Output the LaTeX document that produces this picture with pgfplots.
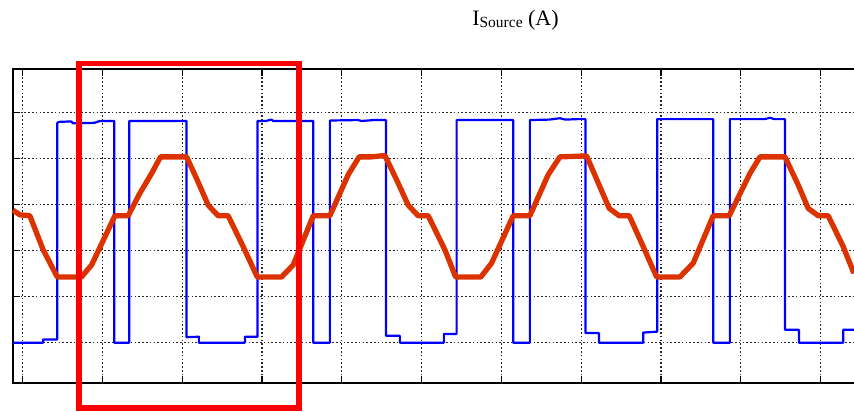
\documentclass[border=0pt]{standalone}
\usepackage{pgfplots}
\pgfplotsset{compat=1.18}
\usepackage{fontspec}
\setmainfont{Liberation Serif}
\definecolor{sigblue}{RGB}{0,0,255}
\definecolor{sigred}{RGB}{220,50,0}
\begin{document}
\begin{tikzpicture}
\useasboundingbox (-13bp,-29bp) rectangle (841bp,383bp);
\begin{axis}[
  scale only axis,
  width=847.5bp, height=314bp,
  xmin=-0.12, xmax=10.5,
  ymin=-0.876, ymax=5.95,
  xtick={0,1,...,10}, ytick={0,1,...,5},
  xticklabels={}, yticklabels={},
  grid=major,
  major grid style={black!85, line width=1.2bp, dash pattern=on 1.6bp off 2.2bp},
  tick style={black, line width=1.2bp},
  major tick length=7bp,
  axis line style={black, line width=1.4bp},
  clip=false,
]
\addplot[sigblue, line width=2.2bp, line join=round] coordinates {
(-0.12,0) (0.258,0) (0.258,0.07) (0.434,0.07) (0.434,4.77) (0.45,4.80) (0.61,4.81) (0.63,4.77) (0.90,4.78) (0.97,4.82) (1.148,4.82)
(1.148,0) (1.336,0) (1.336,4.82) (2.055,4.82) (2.055,0.12) (2.209,0.13) (2.209,0) (2.786,0) (2.786,0.13) (2.945,0.13)
(2.945,4.82) (3.05,4.82) (3.12,4.85) (3.14,4.82) (3.642,4.82) (3.642,0) (3.851,0) (3.851,4.83) (4.20,4.84) (4.25,4.82) (4.40,4.84) (4.553,4.84)
(4.553,0.15) (4.728,0.15) (4.728,0) (5.279,0) (5.279,0.19) (5.439,0.19) (5.439,4.84) (6.148,4.84) (6.148,0) (6.357,0)
(6.357,4.84) (6.60,4.85) (6.733,4.88) (6.80,4.85) (6.95,4.86) (7.053,4.86) (7.053,0.21) (7.222,0.21) (7.222,0) (7.777,0)
(7.777,0.22) (7.952,0.24) (7.952,4.86) (8.654,4.86) (8.654,0) (8.863,0) (8.863,4.86) (9.30,4.86) (9.365,4.89) (9.42,4.86) (9.553,4.86)
(9.553,0.28) (9.728,0.28) (9.728,0) (10.283,0) (10.283,0.28) (10.417,0.28)
};
\addplot[sigred, line width=5.3bp, line join=round] coordinates {
(-0.12,2.88) (-0.034,2.78) (0.091,2.76) (0.258,2.02) (0.434,1.43) (0.739,1.43) (0.865,1.69) (1.157,2.76) (1.323,2.76)
(1.470,3.25) (1.617,3.68) (1.729,4.04) (2.055,4.04) (2.180,3.57) (2.326,2.99) (2.451,2.76) (2.576,2.76) (2.764,2.09)
(2.940,1.43) (3.246,1.43) (3.391,1.69) (3.642,2.76) (3.851,2.76) (4.080,3.65) (4.218,4.04) (4.373,4.04) (4.540,4.07)
(4.687,3.54) (4.832,2.99) (4.957,2.76) (5.083,2.76) (5.292,2.02) (5.426,1.43) (5.743,1.43) (5.877,1.73) (6.148,2.76)
(6.357,2.76) (6.586,3.65) (6.733,4.04) (7.068,4.06) (7.234,3.39) (7.351,2.92) (7.476,2.76) (7.602,2.76) (7.777,2.09)
(7.945,1.43) (8.237,1.43) (8.404,1.73) (8.654,2.76) (8.855,2.76) (9.115,3.68) (9.240,4.04) (9.553,4.04) (9.719,3.43)
(9.845,2.92) (9.970,2.76) (10.095,2.76) (10.283,2.09) (10.417,1.51)
};
\draw[red, line width=5.5bp] (axis cs:0.706,-1.42) rectangle (axis cs:3.462,6.065);
\end{axis}
\node[anchor=base, inner sep=0pt, font=\fontsize{22bp}{25bp}\selectfont] at (502.5bp,357bp)
  {I\raisebox{-1.5bp}{\fontsize{15.5bp}{17bp}\selectfont Source} (A)};
\end{tikzpicture}
\end{document}
